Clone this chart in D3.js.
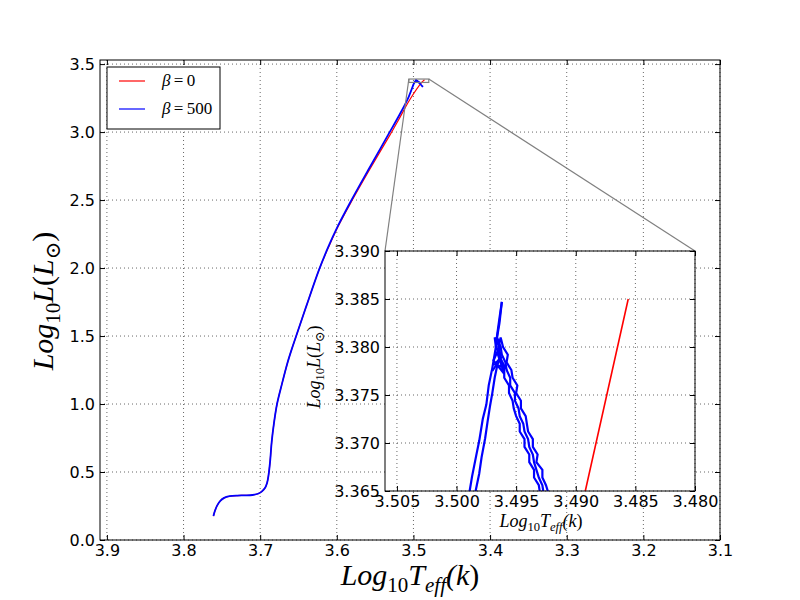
<!DOCTYPE html>
<html><head><meta charset="utf-8">
<script src="https://cdn.jsdelivr.net/npm/d3@7"></script>
<style>body{margin:0;background:#fff}</style></head>
<body><svg id="c" width="800" height="600"></svg>
<script>
// ---- data (log10 Teff, log10 L) ----
const redT=[3.761,3.759,3.756,3.752,3.747,3.740,3.730,3.720,3.710,3.703,3.698,3.694,3.691,3.689,3.687,3.685,3.682,3.678,3.6715,3.6645,3.659,3.653,3.640,3.623,3.6105,3.5985,3.5805,3.5575,3.541,3.5295,3.5195,3.5050,3.4892,3.4856];
const redL=[0.176,0.215,0.255,0.288,0.310,0.322,0.327,0.328,0.331,0.340,0.356,0.380,0.420,0.480,0.580,0.720,0.860,1.000,1.150,1.300,1.400,1.500,1.716,1.990,2.157,2.304,2.493,2.721,2.880,2.990,3.089,3.236,3.365,3.385];

const blueT=[3.761,3.759,3.756,3.752,3.747,3.740,3.730,3.720,3.710,3.703,3.698,3.694,3.691,3.689,3.687,3.685,3.682,3.678,3.6715,3.6645,3.659,3.653,3.640,3.623,3.611,3.599,3.5815,3.559,3.543,3.532,3.522,3.5080,3.4989,3.4987,3.4983,3.4981,3.4978,3.4975,3.4973,3.4970,3.4967,3.4966,3.4964,3.4962];
const blueL=[0.176,0.215,0.255,0.288,0.310,0.322,0.327,0.328,0.331,0.340,0.356,0.380,0.420,0.480,0.580,0.720,0.860,1.000,1.150,1.300,1.400,1.500,1.716,1.990,2.157,2.304,2.493,2.721,2.880,2.990,3.089,3.236,3.365,3.3665,3.3690,3.3702,3.3725,3.3740,3.3760,3.3778,3.3800,3.3812,3.3830,3.3847];

// descending branch from the peak (middle strand) and the hook seen in the main panel
const blueDescT=[3.4962,3.4964,3.4966,3.4963,3.4962,3.4959,3.4958,3.4955,3.4955,3.4951,3.4951,3.4948,3.4947,3.4944,3.4943,3.4940,3.4939,3.4936,3.4935,3.4933,3.4931,3.4928,3.4927,3.4905,3.4885,3.4875];
const blueDescL=[3.3847,3.3825,3.3810,3.3800,3.3792,3.3784,3.3776,3.3768,3.3760,3.3752,3.3744,3.3736,3.3728,3.3720,3.3712,3.3704,3.3696,3.3688,3.3680,3.3672,3.3664,3.3656,3.3648,3.3500,3.3370,3.3320];

// inner ascending strand, turning into the left edge of the descending band
const blueInnerT=[3.4992,3.4984,3.4981,3.4979,3.4976,3.4974,3.4972,3.4970,3.4968,3.4966,3.4963,3.4965,3.4963,3.4961,3.4957,3.4958,3.4954,3.4953,3.4949,3.4950,3.4946,3.4946,3.4942,3.4941,3.4940,3.4936,3.4936,3.4932,3.4933,3.4928,3.4928,3.4925,3.4923,3.4918];
const blueInnerL=[3.3600,3.3650,3.3668,3.3685,3.3705,3.3722,3.3738,3.3752,3.3768,3.3780,3.3792,3.3800,3.3810,3.3800,3.3792,3.3784,3.3776,3.3768,3.3760,3.3752,3.3744,3.3736,3.3728,3.3720,3.3712,3.3704,3.3696,3.3688,3.3680,3.3672,3.3664,3.3656,3.3648,3.3620];

// jittery knot near the turn-over and right edge of the descending band
const blueOuterT=[3.4970,3.4962,3.4968,3.4959,3.4966,3.4960,3.4969,3.4964,3.4968,3.4967,3.4964,3.4963,3.4960,3.4960,3.4956,3.4956,3.4953,3.4952,3.4950,3.4947,3.4947,3.4943,3.4943,3.4939,3.4939,3.4935,3.4935,3.4931,3.4930,3.4926];
const blueOuterL=[3.3775,3.3790,3.3782,3.3778,3.3795,3.3772,3.3786,3.3800,3.3810,3.3800,3.3792,3.3784,3.3776,3.3768,3.3760,3.3752,3.3744,3.3736,3.3728,3.3720,3.3712,3.3704,3.3696,3.3688,3.3680,3.3672,3.3664,3.3656,3.3648,3.3620];

const mainXTicks=[3.9,3.8,3.7,3.6,3.5,3.4,3.3,3.2,3.1];
const mainYTicks=[0.0,0.5,1.0,1.5,2.0,2.5,3.0,3.5];
const insetXTicks=[3.505,3.500,3.495,3.490,3.485,3.480];
const insetYTicks=[3.365,3.370,3.375,3.380,3.385,3.390];
const legendBetas=["0","500"];
const seriesColors=["#ff0000","#0000ff"];

// ---- setup ----
const svg=d3.select("#c");
svg.append("rect").attr("width",800).attr("height",600).attr("fill","#fff");
const M={l:100,r:720,t:60,b:540};
const I={l:385,r:695,t:251,b:491};
const x=d3.scaleLinear().domain([3.909,3.1]).range([M.l,M.r]);
const y=d3.scaleLinear().domain([0,3.53]).range([M.b,M.t]);
const xi=d3.scaleLinear().domain([3.506,3.48]).range([I.l,I.r]);
const yi=d3.scaleLinear().domain([3.365,3.39]).range([I.b,I.t]);
const defs=svg.append("defs");
defs.append("clipPath").attr("id","cm").append("rect").attr("x",M.l).attr("y",M.t).attr("width",M.r-M.l).attr("height",M.b-M.t);
defs.append("clipPath").attr("id","ci").append("rect").attr("x",I.l).attr("y",I.t).attr("width",I.r-I.l).attr("height",I.b-I.t);
const zip=(a,b)=>a.map((v,i)=>[v,b[i]]);
const TICKFONT="DejaVu Sans, sans-serif";
const MATHFONT="Liberation Serif, DejaVu Serif, serif";
const blueSets=[[blueT,blueL],[blueInnerT,blueInnerL],[blueOuterT,blueOuterL],[blueDescT,blueDescL]];

function grid(g,xs,ys,xt,yt,box){
  g.selectAll(null).data(xt).join("line").attr("x1",d=>xs(d)).attr("x2",d=>xs(d)).attr("y1",box.t).attr("y2",box.b)
   .attr("stroke","#000").attr("stroke-width",0.6).attr("stroke-dasharray","1,3");
  g.selectAll(null).data(yt).join("line").attr("y1",d=>ys(d)).attr("y2",d=>ys(d)).attr("x1",box.l).attr("x2",box.r)
   .attr("stroke","#000").attr("stroke-width",0.6).attr("stroke-dasharray","1,3");
}
function axes(g,xs,ys,xt,yt,box,fmt){
  const ax=[
    [d3.axisBottom(xs).tickValues(xt).tickFormat(fmt).tickPadding(5),`translate(0,${box.b})`],
    [d3.axisTop(xs).tickValues(xt).tickFormat(""),`translate(0,${box.t})`],
    [d3.axisLeft(ys).tickValues(yt).tickFormat(fmt).tickPadding(5),`translate(${box.l},0)`],
    [d3.axisRight(ys).tickValues(yt).tickFormat(""),`translate(${box.r},0)`]
  ];
  ax.forEach(([a,t])=>{
    const s=g.append("g").attr("transform",t).call(a.tickSizeInner(-5).tickSizeOuter(0));
    s.select(".domain").remove();
    s.selectAll("line").attr("stroke","#000").attr("stroke-width",1);
    s.selectAll("text").attr("font-family",TICKFONT).attr("font-size",16).attr("fill","#000");
  });
  g.append("rect").attr("x",box.l).attr("y",box.t).attr("width",box.r-box.l).attr("height",box.b-box.t)
   .attr("fill","none").attr("stroke","#000").attr("stroke-width",1);
}
function mathText(g,parts,size){
  const t=g.append("text").attr("font-family",MATHFONT).attr("font-style","italic").attr("font-size",size).attr("fill","#000");
  let shift=0;
  parts.forEach(p=>{
    const s=t.append("tspan").text(p.t);
    const target=p.sub?size*0.22:0;
    if(target!==shift){s.attr("dy",target-shift);shift=target;}
    if(p.sub)s.attr("font-size",size*0.7);
    if(p.up)s.attr("font-style","normal");
  });
  return t;
}
const teffParts=[{t:"Log"},{t:"10",sub:1,up:1},{t:"T"},{t:"eff",sub:1},{t:"("},{t:"k"},{t:")",up:1}];
const lumParts=[{t:"Log"},{t:"10",sub:1,up:1},{t:"L"},{t:"(",up:1},{t:"L"},{t:"⊙",sub:1,up:1},{t:")",up:1}];

// ---- main axes ----
const gm=svg.append("g");
grid(gm,x,y,mainXTicks,mainYTicks,M);
const lineM=d3.line().x(d=>x(d[0])).y(d=>y(d[1])).curve(d3.curveCatmullRom.alpha(0.5));
const lm=gm.append("g").attr("clip-path","url(#cm)");
lm.append("path").attr("d",lineM(zip(redT,redL))).attr("fill","none").attr("stroke",seriesColors[0]).attr("stroke-width",1.2);
blueSets.forEach(([a,b])=>{
  lm.append("path").attr("d",lineM(zip(a,b))).attr("fill","none").attr("stroke",seriesColors[1]).attr("stroke-width",1.8);
});

// legend
const lg=svg.append("g");
lg.append("rect").attr("x",107).attr("y",67).attr("width",113).attr("height",62).attr("fill","#fff").attr("stroke","#000").attr("stroke-width",1);
legendBetas.forEach((b,i)=>{
  const yy=81+i*28;
  lg.append("line").attr("x1",119).attr("x2",145).attr("y1",yy).attr("y2",yy).attr("stroke",seriesColors[i]).attr("stroke-width",1.2);
  const t=lg.append("text").attr("x",162).attr("y",yy+5).attr("font-family",MATHFONT).attr("font-size",17).attr("fill","#000");
  t.append("tspan").attr("font-style","italic").text("β");
  t.append("tspan").text("\u2009=\u2009"+b);
});

// inset marker rectangle and connectors
const mk=svg.append("g");
mk.append("rect").attr("x",x(3.506)).attr("y",y(3.39)).attr("width",x(3.48)-x(3.506)).attr("height",y(3.365)-y(3.39))
  .attr("fill","none").attr("stroke","#808080").attr("stroke-width",1.2);
mk.append("line").attr("x1",x(3.506)).attr("y1",y(3.39)).attr("x2",I.l).attr("y2",I.t).attr("stroke","#808080").attr("stroke-width",1.2);
mk.append("line").attr("x1",x(3.48)).attr("y1",y(3.39)).attr("x2",I.r).attr("y2",I.t).attr("stroke","#808080").attr("stroke-width",1.2);

// main frame/ticks
axes(svg.append("g"),x,y,mainXTicks,mainYTicks,M,d3.format(".1f"));
mathText(svg.append("g").attr("transform","translate(410,585)"),teffParts,30).attr("text-anchor","middle");
mathText(svg.append("g").attr("transform","translate(53,301) rotate(-90)"),lumParts,30).attr("text-anchor","middle");

// ---- inset ----
const gi=svg.append("g");
gi.append("rect").attr("x",I.l).attr("y",I.t).attr("width",I.r-I.l).attr("height",I.b-I.t).attr("fill","#fff");
grid(gi,xi,yi,insetXTicks,insetYTicks,I);
const lineI=d3.line().x(d=>xi(d[0])).y(d=>yi(d[1]));
const li=gi.append("g").attr("clip-path","url(#ci)");
li.append("path").attr("d",lineI(zip(redT,redL))).attr("fill","none").attr("stroke",seriesColors[0]).attr("stroke-width",1.6);
blueSets.forEach(([a,b])=>{
  li.append("path").attr("d",lineI(zip(a,b))).attr("fill","none").attr("stroke",seriesColors[1]).attr("stroke-width",2.2);
});
axes(gi,xi,yi,insetXTicks,insetYTicks,I,d3.format(".3f"));
mathText(svg.append("g").attr("transform","translate(541,527)"),teffParts,18).attr("text-anchor","middle");
mathText(svg.append("g").attr("transform","translate(320,367) rotate(-90)"),lumParts,18).attr("text-anchor","middle");
</script></body></html>
